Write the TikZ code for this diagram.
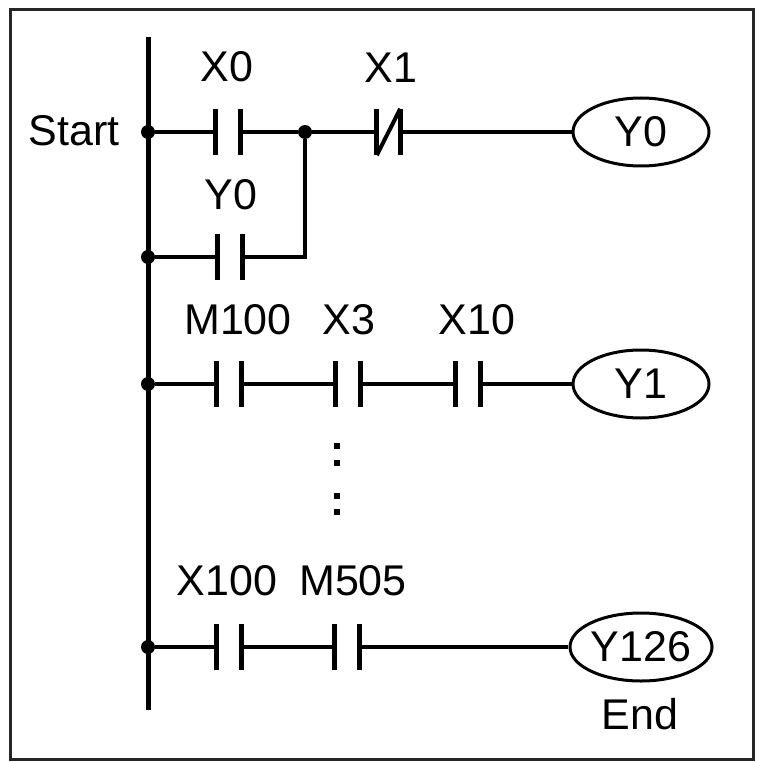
\documentclass[tikz,border=0pt]{standalone}
\usepackage{fontspec}
\setmainfont{Liberation Sans}
\usetikzlibrary{shapes.geometric}
\begin{document}
\begin{tikzpicture}
[x=1pt,y=-1pt,
  wiredecorate/.style={-,line width=4pt},
  raildecorate/.style={-,line width=5pt},
  platedecorate/.style={-,line width=5pt},
  nodedecorate/.style={shape=circle,fill,inner sep=0pt,minimum size=14pt},
  contactdecorate/.style={shape=rectangle,inner sep=0pt,minimum width=25pt,minimum height=46pt,
    append after command={(\tikzlastnode.north west) edge[platedecorate] (\tikzlastnode.south west)
      (\tikzlastnode.north east) edge[platedecorate] (\tikzlastnode.south east)}},
  closeddecorate/.style={contactdecorate,minimum width=23pt,
    append after command={(\tikzlastnode.south west) edge[wiredecorate] (\tikzlastnode.north east)}},
  coildecorate/.style={shape=ellipse,draw,line width=3pt,inner sep=0pt,
    minimum width=136pt,minimum height=68pt,font=\fontsize{43}{43}\selectfont},
  labeldecorate/.style={inner sep=0pt,font=\fontsize{43}{43}\selectfont},
  ellipsisdecorate/.style={shape=rectangle,fill,inner sep=0pt,minimum size=6pt}]
\useasboundingbox (0,0) rectangle (756,762);
\draw[line width=3pt,black!85] (10,10) rectangle (753,759);
%% power rail
\coordinate (railtop) at (148,37);
\coordinate (railbottom) at (148,710);
\draw[raildecorate] (railtop) -- (railbottom);
%% dots
\foreach \nodename/\x/\y in {
  r1/148/132, r2/148/257, r3/148/384, r4/148/647, j1/305/132} {
  \node (\nodename) at (\x,\y) [nodedecorate] {};
}
\coordinate (c1) at (305,257);
%% contacts
\foreach \nodename/\x/\y in {
  x0/228/132, y0c/230/257, m100/229/384, x3/348/384, x10/468/384,
  x100/229/647, m505/347/647} {
  \node (\nodename) at (\x,\y) [contactdecorate] {};
}
\node (x1) at (388.5,132) [closeddecorate] {};
%% coils
\node (y0coil) at (641,132) [coildecorate] {Y0};
\node (y1coil) at (641,384) [coildecorate] {Y1};
\node (y126coil) at (641,647) [coildecorate] {Y126};
%% labels
\foreach \nodename/\x/\y/\text in {
  lx0/227/67/X0, lx1/391/68/X1, ly0/231/195/Y0,
  lm100/238/320/M100, lx3/349/320/X3, lx10/477/320/X10,
  lx100/227/581/X100, lm505/353/581/M505, lend/640/714/End} {
  \node (\nodename) at (\x,\y) [labeldecorate] {\text};
}
\node (start) at (120,131) [labeldecorate,anchor=east] {Start};
%% vertical ellipsis
\foreach \nodename/\y in {e1/446, e2/463, e3/496, e4/512} {
  \node (\nodename) at (337,\y) [ellipsisdecorate] {};
}
%% wires
\path
\foreach \startnode/\endnode in {r1/x0.west, x0.east/j1, j1/x1.west, x1.east/y0coil.west,
  r2/y0c.west, r3/m100.west, m100.east/x3.west, x3.east/x10.west, x10.east/y1coil.west,
  r4/x100.west, x100.east/m505.west, m505.east/y126coil.west} {
  (\startnode) edge[wiredecorate] (\endnode)
};
\draw[wiredecorate] (y0c.east) -- (c1) -- (j1);
\end{tikzpicture}
\end{document}
